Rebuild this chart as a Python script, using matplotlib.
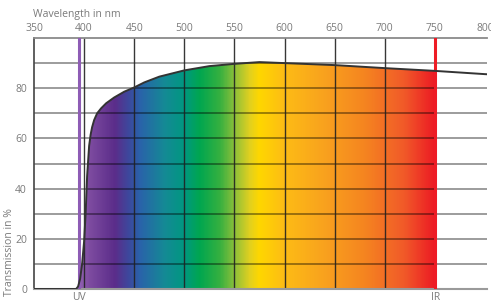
import numpy as np
import matplotlib
matplotlib.use("Agg")
import matplotlib.pyplot as plt
from matplotlib.colors import LinearSegmentedColormap
from matplotlib.patches import Polygon

plt.rcParams['font.family'] = ['Open Sans', 'DejaVu Sans']

# Data
wavelength = [350, 392, 394, 396, 398, 400, 401.5, 403, 405, 406.5, 408, 410, 413, 417, 422,
              430, 440, 450, 460, 475, 500, 525, 550, 575, 600, 650, 700, 750, 800, 805]
transmission = [0, 0, 1, 4, 10, 19, 30, 45, 57, 61.5, 64.5, 67.3, 70, 72, 74,
                76.3, 78.6, 80.3, 82.3, 84.6, 87.1, 88.8, 89.7, 90.4, 90.0, 89.2, 88.0, 86.9, 85.6, 85.5]
x_ticks = [350, 400, 450, 500, 550, 600, 650, 700, 750, 800]
y_ticks = [0, 20, 40, 60, 80]
uv_cut = 395
ir_cut = 750

spec_nm = [395, 405, 430, 445, 455, 480, 500, 515, 535, 550, 565, 575, 600, 640, 680, 720, 750]
spec_col = ['#9060b0', '#7d4ba0', '#5b2d8a', '#3b4a9e', '#2a62aa', '#148a95', '#009880',
            '#00a650', '#35b040', '#8cc03a', '#e0d020', '#ffd700', '#fdbc15', '#f9a21e',
            '#f58520', '#f15a29', '#ec1c24']

fig = plt.figure(figsize=(4.91, 3.05), dpi=100)
ax = fig.add_axes([34/491, 1-289/305, 453/491, 251/305])
xmin, xmax = 350, 802
ax.set_xlim(xmin, xmax)
ax.set_ylim(0, 100)

# gradient fill under curve
pos = [(v - spec_nm[0]) / (spec_nm[-1] - spec_nm[0]) for v in spec_nm]
cmap = LinearSegmentedColormap.from_list('spec', list(zip(pos, spec_col)))
grad = np.linspace(0, 1, 600).reshape(1, -1)
im = ax.imshow(grad, cmap=cmap, aspect='auto', extent=(spec_nm[0], spec_nm[-1], 0, 100),
               zorder=1, interpolation='bilinear')
wl = np.array(wavelength, dtype=float)
tr = np.array(transmission, dtype=float)
mask = (wl >= 392) & (wl <= ir_cut)
verts = list(zip(wl[mask], tr[mask])) + [(ir_cut, 0), (392, 0)]
poly = Polygon(verts, closed=True, transform=ax.transData, facecolor='none', edgecolor='none')
ax.add_patch(poly)
im.set_clip_path(poly)

# grid
for y in range(10, 100, 10):
    ax.axhline(y, color='black', alpha=0.42, lw=1.3, zorder=2)
for x in range(400, 750, 50):
    ax.axvline(x, color='#222222', alpha=0.9, lw=1.0, zorder=2)

# curve
ax.plot(wl, tr, color='#333333', lw=1.4, zorder=4, clip_on=True)

# cut lines
ax.axvline(uv_cut, color='#8e5cb5', lw=2.2, zorder=3)
ax.axvline(ir_cut, color='#ee1c25', lw=2.2, zorder=3)

# spines
ax.spines['right'].set_visible(False)
ax.spines['top'].set_color('#8a8a8a')
ax.spines['top'].set_linewidth(1.3)
ax.spines['bottom'].set_color('#9a9a9a')
ax.spines['bottom'].set_linewidth(1.5)
ax.spines['left'].set_color('#444444')
ax.spines['left'].set_linewidth(1.2)

ax.xaxis.tick_top()
ax.set_xticks(x_ticks)
ax.set_xticklabels([str(v) for v in x_ticks])
ax.set_yticks(y_ticks)
ax.set_yticklabels([str(v) for v in y_ticks])
ax.tick_params(axis='both', length=0, labelsize=7.5, labelcolor='#7a7a7a', pad=3)
ax.tick_params(axis='y', pad=5)

fig.text(33/491, 1-14/305, 'Wavelength in nm', fontsize=7.5, color='#7a7a7a', ha='left', va='center')
fig.text(10/491, 1-252/305, 'Transmission in %', fontsize=7.5, color='#7a7a7a', rotation=90,
         ha='center', va='center')
fig.text(79/491, 1-298/305, 'UV', fontsize=7.5, color='#7a7a7a', ha='center', va='center')
fig.text(436/491, 1-298/305, 'IR', fontsize=7.5, color='#7a7a7a', ha='center', va='center')

fig.savefig('out.png', dpi=100)
